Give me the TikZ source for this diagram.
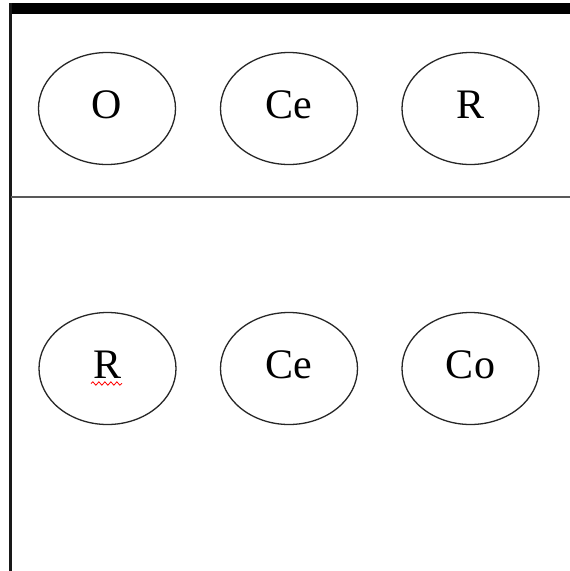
\documentclass[tikz,border=0pt]{standalone}
\usepackage{fontspec}
\setmainfont{Liberation Serif}
\usetikzlibrary{shapes.geometric,decorations.pathmorphing}
\begin{document}
\begin{tikzpicture}[x=1pt,y=-1pt,
  elem/.style={draw=black!85,line width=1.3pt,ellipse,minimum width=137pt,minimum height=112pt,inner sep=0pt,text height=28pt,text depth=9pt,font=\fontsize{42}{46}\selectfont}]
\useasboundingbox (0,0) rectangle (570,571);
\fill[white] (0,0) rectangle (570,571);
% frame
\fill[black] (9,3) rectangle (570,14);
\draw[line width=2.5pt,black!90] (10.5,3) -- (10.5,571);
\draw[line width=2pt,black!65] (10.5,196.5) -- (570,196.5);
% top row
\node[elem] (o1) at (107,108.5) {O};
\node[elem] (ce1) at (289,108.5) {Ce};
\node[elem] (r1) at (470.5,108.5) {R};
% bottom row
\node[elem] (r2) at (107.5,368.5) {R};
\node[elem] (ce2) at (289,368.5) {Ce};
\node[elem] (co2) at (470.5,368.5) {Co};
% spell-check squiggle
\coordinate (sqa) at (91,383.5);
\coordinate (sqb) at (122,383.5);
\draw[red,line width=0.8pt,decorate,decoration={snake,amplitude=1.7pt,segment length=6pt}] (sqa) -- (sqb);
\end{tikzpicture}
\end{document}
